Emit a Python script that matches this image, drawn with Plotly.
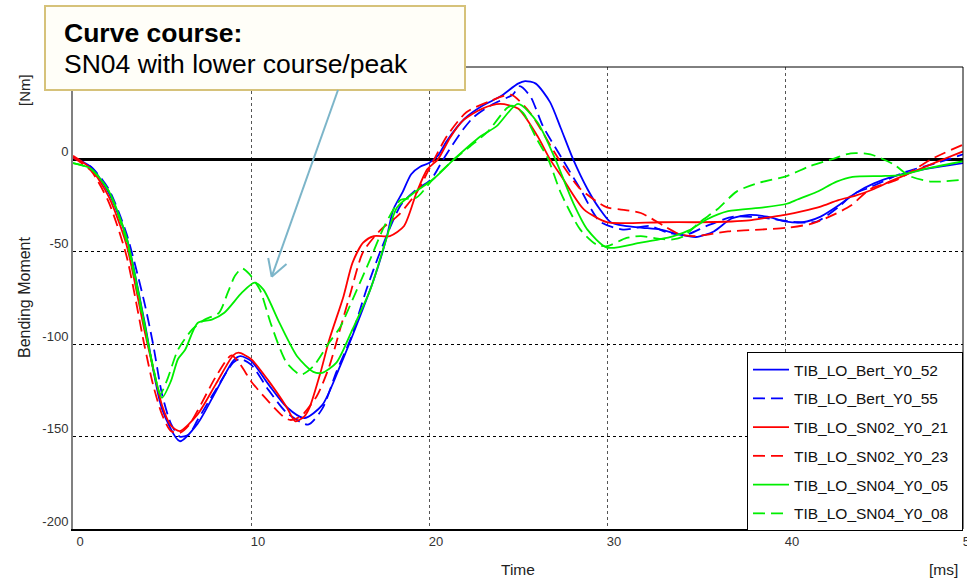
import plotly.graph_objects as go

# ---- data (time in ms, bending moment in Nm) ----
bert52_t = [0, 1, 2, 3, 4, 5, 6, 7, 8, 9, 9.4, 10, 11, 12, 13, 14, 15, 16, 16.9, 17.6, 18, 18.5, 19, 19.5, 20, 20.5, 21, 22, 23, 24, 25, 25.4, 26, 26.8, 27.4, 28.1, 28.9, 29.6, 30.2, 31, 32, 33, 34, 35, 36, 37, 38, 39, 40, 41, 42, 43, 44, 45, 46, 47, 48, 49, 50]
bert52_m = [1, -4, -18, -42, -87, -135, -152.5, -143, -126, -109, -106.5, -109, -122, -134, -140, -133, -112, -88, -65, -43, -27, -18, -8, -4, -2, 2, 10, 22, 29, 34, 41, 42.4, 41, 31, 17, 0, -16, -27, -34, -36, -37, -38, -40.5, -42, -39, -32, -30, -31, -33.5, -34, -31, -25, -18, -13, -9.5, -7, -5, -3.5, -2]

bert55_t = [0, 1, 2, 3, 4, 4.5, 5, 5.5, 6, 6.5, 7, 8, 9, 9.4, 10, 11, 12, 13.2, 14, 14.8, 15.6, 16.5, 17.3, 18.4, 19.2, 20.1, 20.9, 21.9, 22.5, 23.6, 24.7, 25.1, 25.7, 26.4, 27.5, 28.5, 29.6, 30.9, 32.4, 33.4, 34.5, 35.6, 37.1, 38.8, 40.7, 41.8, 43.1, 43.8, 44.8, 46.7, 48.5, 50]
bert55_m = [1, -4, -16, -40, -77, -100, -127, -143, -150, -149, -141, -125, -110, -108, -111, -125, -137, -143.5, -135, -115, -97, -70, -49, -25, -17, -11, 1.6, 16, 22.8, 30, 35, 39.6, 34, 18, 0, -16, -33.6, -38, -36, -39.6, -40.6, -36, -31, -31.6, -34, -33.6, -25, -19, -15, -7, -2, 2.7]

sn02_21_t = [0, 1, 2, 3, 4, 4.5, 5, 5.5, 6, 7, 8, 9, 9.3, 10, 11, 12, 12.5, 13, 13.3, 13.9, 14.4, 15.2, 15.7, 16.3, 16.9, 17.8, 18.6, 19.3, 19.9, 20.5, 21.2, 21.9, 23, 24, 25, 26.1, 26.8, 27.5, 28.7, 30, 31, 33, 35, 37, 38, 39, 40, 41, 42, 43, 44, 45, 46, 47, 48, 49, 50]
sn02_21_m = [2, -5, -20, -46, -92, -113, -133, -144, -147, -138, -122, -106, -104.6, -108, -120, -134, -141.7, -139, -134, -115.5, -97.5, -74, -56, -45, -41.5, -41.5, -36, -18, -5.4, 0, 12, 21, 27.5, 30, 27.5, 12.5, 0, -10, -27, -34, -34.5, -34, -34, -33.6, -33, -31.5, -30, -28, -25.5, -22, -19.5, -16, -11.5, -7.5, -3.5, 0.5, 4.3]

sn02_23_t = [0, 1, 2, 3, 4, 4.5, 5, 5.5, 6, 6.5, 7, 8, 8.9, 9.4, 10, 10.7, 11.8, 12.2, 12.8, 13.7, 14.4, 15, 15.6, 16.3, 17.3, 18.3, 19.3, 20, 21, 22.1, 23.4, 24.6, 25.7, 26.3, 27.3, 28.5, 30, 30.7, 31.9, 33.2, 34.1, 35, 36.8, 38.6, 40.1, 41.4, 42.5, 43.7, 44.8, 46.3, 48.2, 50]
sn02_23_m = [1, -6, -23, -52, -100, -122, -138, -147, -148, -144, -136, -118, -106, -111, -120, -128, -139, -141, -139, -128, -112, -92, -72, -50, -38, -30, -18, -5.4, 12.5, 25.5, 31.4, 35, 25, 16, 0, -16, -26, -27, -29, -36, -40.6, -41.5, -39, -38, -37, -35, -31, -25, -16, -11, 0, 8]

sn04_05_t = [0, 1, 2, 3, 4, 4.5, 5, 5.5, 5.9, 6.3, 7, 7.8, 8.5, 9.5, 10.2, 10.7, 11.6, 12.6, 13.5, 14, 14.8, 15.7, 16.7, 17.6, 18.2, 19.3, 20.2, 21.4, 22.9, 23.8, 25, 26.1, 27.1, 28.1, 28.9, 30, 31.9, 33.7, 34.7, 35.6, 36.8, 38.8, 40.1, 40.7, 41.8, 42.9, 43.8, 45.4, 46.3, 48.2, 50]
sn04_05_m = [-2, -5, -17, -42, -88, -113, -129, -120, -108, -103, -88.5, -86.7, -83, -72, -66.7, -70.5, -88.5, -106.7, -115, -115.5, -110, -92, -70.5, -43, -26, -17, -11, 0, 12.5, 18, 30, 20, 0, -23.5, -38, -47.7, -45, -41.6, -38, -32.5, -28, -26, -24, -21.7, -17.5, -12, -9.4, -9, -8.7, -4.5, -1]

sn04_08_t = [0, 1, 2, 3, 4, 4.5, 4.9, 5.3, 5.9, 6.7, 7.4, 8.2, 8.7, 9.1, 9.5, 9.9, 10.5, 11.1, 12, 12.8, 13.5, 14.4, 15, 15.7, 16.7, 17.5, 18.4, 19.3, 20.2, 21.4, 22.3, 23.3, 24.4, 24.7, 25.3, 26, 26.7, 27.4, 28.5, 29.4, 30, 31.1, 31.9, 33, 33.7, 34.3, 35.2, 36.2, 37.3, 38.6, 40.1, 41.4, 42.6, 43.7, 44.8, 46.1, 47, 48.2, 50]
sn04_08_m = [-2, -5, -17, -44, -90, -112, -127, -119, -103, -92, -86.7, -83, -72, -63, -59, -62, -70.5, -88.5, -110, -116.5, -112, -99, -91, -76, -54, -36, -22, -20.6, -11, 0, 7, 15, 28, 29, 25, 12, 0, -18, -38, -46, -47, -42.5, -41.5, -43, -43.3, -41.6, -34, -27, -17.3, -12.5, -9, -3.6, 0, 3.3, 2.7, -2.7, -9, -12, -11]

x_ticks = [0, 10, 20, 30, 40, 50]
y_ticks = [-200, -150, -100, -50, 0]

series = [
    ("TIB_LO_Bert_Y0_52", bert52_t, bert52_m, "#0000ff", "solid"),
    ("TIB_LO_Bert_Y0_55", bert55_t, bert55_m, "#0000ff", "12px,6px"),
    ("TIB_LO_SN02_Y0_21", sn02_21_t, sn02_21_m, "#ff0000", "solid"),
    ("TIB_LO_SN02_Y0_23", sn02_23_t, sn02_23_m, "#ff0000", "12px,6px"),
    ("TIB_LO_SN04_Y0_05", sn04_05_t, sn04_05_m, "#00ee00", "solid"),
    ("TIB_LO_SN04_Y0_08", sn04_08_t, sn04_08_m, "#00ee00", "12px,6px"),
]

FONT = "Arial, Liberation Sans, sans-serif"

fig = go.Figure()
for name, t, m, col, dash in series:
    fig.add_trace(go.Scatter(
        x=t, y=m, mode="lines", name=name + "\u00a0\u00a0", legendgroup=name,
        line=dict(color=col, width=1.8, dash=dash, shape="spline", smoothing=0.7),
    ))

# pixel -> paper helpers (plot area: x 73..963, y 67..529)
def px(xp):
    return (xp - 73) / 890.0

def py(yp):
    return (529 - yp) / 462.0

shapes = [
    # top + right border
    dict(type="path", xref="paper", yref="paper",
         path="M 0,1 L 1,1 L 1,0", line=dict(color="black", width=1), layer="above"),
    # callout box
    dict(type="rect", xref="paper", yref="paper", x0=px(45), x1=px(465), y0=py(90), y1=py(6),
         fillcolor="#fffef8", line=dict(color="#d6c27a", width=2), layer="above"),
    # arrow shaft and open head
    dict(type="line", xref="paper", yref="paper", x0=px(338), y0=py(90), x1=px(271.7), y1=py(276.7),
         line=dict(color="#7cb5c9", width=2), layer="above"),
    dict(type="line", xref="paper", yref="paper", x0=px(271.7), y0=py(276.7), x1=px(286.5), y1=py(264),
         line=dict(color="#7cb5c9", width=2), layer="above"),
    dict(type="line", xref="paper", yref="paper", x0=px(271.7), y0=py(276.7), x1=px(268.2), y1=py(258),
         line=dict(color="#7cb5c9", width=2), layer="above"),
]

annotations = [
    dict(text="<b>Curve course:</b>", xref="paper", yref="paper", x=px(62), y=py(33),
         xanchor="left", yanchor="middle", showarrow=False,
         font=dict(family=FONT, size=26.5, color="black")),
    dict(text="SN04 with lower course/peak", xref="paper", yref="paper", x=px(62), y=py(64),
         xanchor="left", yanchor="middle", showarrow=False,
         font=dict(family=FONT, size=26.5, color="black")),
    dict(text="Bending Moment", xref="paper", yref="paper", x=px(24), y=py(297), textangle=-90,
         xanchor="center", yanchor="middle", showarrow=False,
         font=dict(family=FONT, size=16, color="#222")),
    dict(text="[Nm]", xref="paper", yref="paper", x=px(24), y=py(90), textangle=-90,
         xanchor="center", yanchor="middle", showarrow=False,
         font=dict(family=FONT, size=15, color="#222")),
    dict(text="Time", xref="paper", yref="paper", x=px(518), y=py(569),
         xanchor="center", yanchor="middle", showarrow=False,
         font=dict(family=FONT, size=15.5, color="#222")),
    dict(text="[ms]", xref="paper", yref="paper", x=px(943), y=py(569),
         xanchor="center", yanchor="middle", showarrow=False,
         font=dict(family=FONT, size=15.5, color="#222")),
]

fig.update_layout(
    width=967, height=579,
    margin=dict(l=73, r=4, t=67, b=50, autoexpand=False),
    paper_bgcolor="white", plot_bgcolor="white",
    font=dict(family=FONT, size=13, color="#333"),
    showlegend=True,
    legend=dict(x=px(747), y=py(352), xanchor="left", yanchor="top",
                bgcolor="white", bordercolor="black", borderwidth=1,
                font=dict(family=FONT, size=15.5, color="#111"),
                tracegroupgap=5.6, itemwidth=36),
    shapes=shapes,
    annotations=annotations,
)
fig.update_xaxes(range=[0, 50], tickvals=x_ticks, ticktext=[str(v) for v in x_ticks],
                 showgrid=True, gridcolor="#555", griddash="dot", gridwidth=1,
                 zeroline=False, showline=True, linecolor="black", linewidth=1.5,
                 ticks="", ticklabelshift=7, ticklabeloverflow="allow", automargin=False,
                 tickfont=dict(size=13, color="#333"))
fig.update_yaxes(range=[-200, 50], tickvals=y_ticks, ticktext=[str(v) for v in y_ticks],
                 showgrid=True, gridcolor="black", griddash="dot", gridwidth=1,
                 zeroline=True, zerolinecolor="black", zerolinewidth=3,
                 showline=True, linecolor="#808080", linewidth=2,
                 ticks="", ticklabelshift=-8, ticklabeloverflow="allow", automargin=False,
                 tickfont=dict(size=13, color="#333"))

fig.write_html("out.html", config={"displayModeBar": False},
               post_script="document.body.style.margin='0';document.body.style.overflow='hidden';")
